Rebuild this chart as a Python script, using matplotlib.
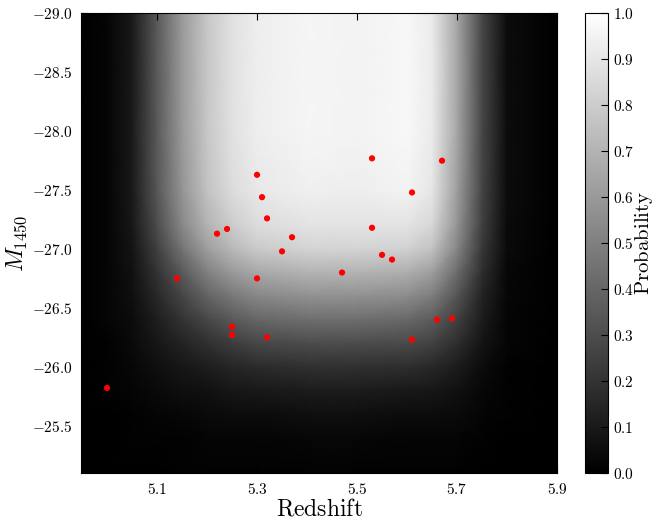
import numpy as np
import matplotlib
matplotlib.use("Agg")
import matplotlib.pyplot as plt
from matplotlib.ticker import FuncFormatter, MultipleLocator

plt.rcParams['mathtext.fontset'] = 'cm'
plt.rcParams['font.family'] = 'serif'
plt.rcParams['xtick.direction'] = 'in'
plt.rcParams['ytick.direction'] = 'in'

# selection probability grid
z_grid = [4.95, 5.00, 5.05, 5.10, 5.15, 5.20, 5.25, 5.30, 5.40, 5.50, 5.60, 5.65, 5.70, 5.75, 5.80, 5.90]
m_grid = [-29.0, -28.0, -27.5, -27.2, -27.0, -26.8, -26.6, -26.4, -26.2, -26.0, -25.8, -25.6, -25.4, -25.1]
prob = [
    [0.00, 0.02, 0.10, 0.35, 0.60, 0.78, 0.88, 0.93, 0.96, 0.95, 0.97, 0.92, 0.65, 0.28, 0.05, 0.00],
    [0.00, 0.02, 0.10, 0.35, 0.60, 0.78, 0.88, 0.93, 0.96, 0.95, 0.97, 0.92, 0.65, 0.28, 0.05, 0.00],
    [0.00, 0.02, 0.10, 0.34, 0.58, 0.76, 0.86, 0.91, 0.94, 0.93, 0.95, 0.90, 0.62, 0.27, 0.05, 0.00],
    [0.00, 0.02, 0.09, 0.30, 0.53, 0.70, 0.80, 0.86, 0.89, 0.89, 0.89, 0.84, 0.58, 0.25, 0.04, 0.00],
    [0.00, 0.02, 0.08, 0.25, 0.45, 0.62, 0.72, 0.79, 0.83, 0.83, 0.82, 0.76, 0.52, 0.22, 0.04, 0.00],
    [0.00, 0.02, 0.07, 0.20, 0.35, 0.50, 0.60, 0.66, 0.70, 0.70, 0.68, 0.62, 0.42, 0.18, 0.03, 0.00],
    [0.00, 0.02, 0.06, 0.16, 0.27, 0.39, 0.47, 0.53, 0.57, 0.57, 0.55, 0.49, 0.33, 0.14, 0.03, 0.00],
    [0.00, 0.02, 0.05, 0.12, 0.20, 0.28, 0.35, 0.40, 0.43, 0.43, 0.41, 0.36, 0.25, 0.11, 0.02, 0.00],
    [0.00, 0.01, 0.04, 0.09, 0.14, 0.19, 0.24, 0.28, 0.30, 0.30, 0.29, 0.26, 0.18, 0.08, 0.02, 0.00],
    [0.00, 0.01, 0.03, 0.06, 0.09, 0.12, 0.15, 0.17, 0.19, 0.19, 0.18, 0.16, 0.11, 0.05, 0.01, 0.00],
    [0.00, 0.01, 0.02, 0.04, 0.06, 0.07, 0.09, 0.10, 0.11, 0.11, 0.10, 0.09, 0.07, 0.03, 0.01, 0.00],
    [0.00, 0.00, 0.01, 0.02, 0.03, 0.04, 0.05, 0.05, 0.06, 0.06, 0.05, 0.05, 0.04, 0.02, 0.01, 0.00],
    [0.00, 0.00, 0.01, 0.01, 0.01, 0.02, 0.02, 0.02, 0.03, 0.03, 0.02, 0.02, 0.02, 0.01, 0.00, 0.00],
    [0.00, 0.00, 0.00, 0.00, 0.01, 0.01, 0.01, 0.01, 0.01, 0.01, 0.01, 0.01, 0.01, 0.00, 0.00, 0.00],
]

# quasars
qso_z = [5.30, 5.31, 5.32, 5.24, 5.22, 5.37, 5.35, 5.30, 5.25, 5.25, 5.32, 5.14, 5.00,
         5.53, 5.67, 5.61, 5.53, 5.55, 5.57, 5.47, 5.66, 5.69, 5.61]
qso_m = [-27.63, -27.44, -27.26, -27.17, -27.13, -27.10, -26.98, -26.75, -26.34, -26.27, -26.25, -26.75, -25.82,
         -27.77, -27.75, -27.48, -27.18, -26.95, -26.91, -26.80, -26.40, -26.41, -26.23]


def math_fmt(v, pos):
    return r'$%.1f$' % v


fig = plt.figure(figsize=(6.54, 5.21), dpi=100)
ax = fig.add_axes([0.1239, 0.0916, 0.7278, 0.8825])
cax = fig.add_axes([0.8945, 0.0916, 0.0352, 0.8825])

mesh = ax.pcolormesh(z_grid, m_grid, np.array(prob), cmap='gray', vmin=0, vmax=1,
                     shading='gouraud', rasterized=True)
ax.scatter(qso_z, qso_m, s=20, color='red', edgecolors='none', zorder=3)

ax.set_xlim(4.948, 5.9)
ax.set_ylim(-25.095, -29.0)
ax.set_xticks([5.1, 5.3, 5.5, 5.7, 5.9])
ax.yaxis.set_major_locator(MultipleLocator(0.5))
ax.xaxis.set_major_formatter(FuncFormatter(math_fmt))
ax.yaxis.set_major_formatter(FuncFormatter(math_fmt))
ax.tick_params(top=True, right=True, labelsize=11, length=5, pad=6)
ax.set_xlabel(r'$\mathrm{Redshift}$', fontsize=17, labelpad=1)
ax.set_ylabel(r'$M_{1450}$', fontsize=17, labelpad=2)

cb = fig.colorbar(mesh, cax=cax)
cb.set_ticks(np.arange(0, 1.01, 0.1))
cb.ax.yaxis.set_major_formatter(FuncFormatter(math_fmt))
cb.ax.tick_params(labelsize=11, length=5, direction='in')
cb.set_label(r'$\mathrm{Probability}$', fontsize=15, labelpad=-1)

fig.savefig('out.png', dpi=100)
